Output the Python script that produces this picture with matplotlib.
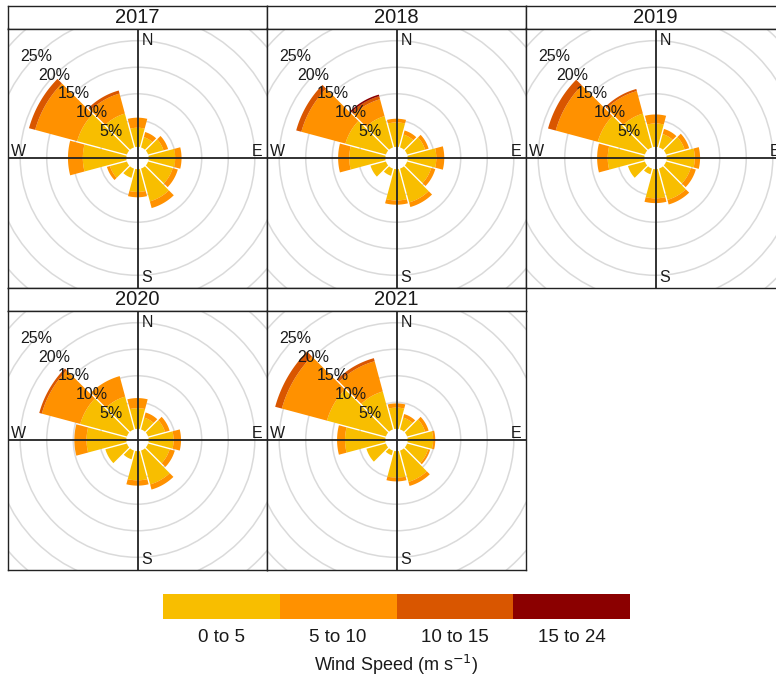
import matplotlib
matplotlib.use("Agg")
import matplotlib.pyplot as plt
from matplotlib.patches import Circle, Polygon
import numpy as np

plt.rcParams['font.family'] = ['Liberation Sans', 'DejaVu Sans']

# ── Data ──────────────────────────────────────────────────────────────────────
YEARS = ["2017", "2018", "2019", "2020", "2021"]
DIRECTIONS = [0, 30, 60, 90, 120, 150, 180, 210, 240, 270, 300, 330]
SPEED_BINS = ["0 to 5", "5 to 10", "10 to 15", "15 to 24"]
RING_PCTS = [5, 10, 15, 20, 25]

# frequency (%) per direction, one row per speed band
freq_2017 = [
    [3.6, 2.0, 3.0, 5.0, 4.8, 6.4, 4.3, 1.8, 3.3, 8.2, 9.7, 6.6],
    [1.9, 1.0, 0.9, 1.2, 1.0, 1.3, 1.0, 0.0, 0.6, 2.8, 8.2, 3.9],
    [0.0, 0.0, 0.0, 0.0, 0.0, 0.0, 0.0, 0.0, 0.0, 0.0, 1.2, 0.6],
    [0.0, 0.0, 0.0, 0.0, 0.0, 0.0, 0.0, 0.0, 0.0, 0.0, 0.0, 0.0],
]
freq_2018 = [
    [4.6, 2.5, 3.5, 5.4, 4.7, 6.6, 5.9, 1.4, 3.0, 6.8, 7.9, 6.1],
    [0.7, 0.8, 0.7, 1.5, 0.8, 0.9, 0.8, 0.0, 0.0, 2.1, 8.6, 3.3],
    [0.0, 0.0, 0.0, 0.0, 0.0, 0.0, 0.0, 0.0, 0.0, 0.0, 1.0, 0.6],
    [0.0, 0.0, 0.0, 0.0, 0.0, 0.0, 0.0, 0.0, 0.0, 0.0, 0.0, 0.3],
]
freq_2019 = [
    [4.4, 2.6, 3.6, 5.3, 4.8, 6.1, 5.5, 1.1, 3.3, 6.9, 9.2, 6.6],
    [1.7, 1.0, 0.9, 1.0, 1.0, 0.9, 0.9, 0.0, 0.0, 2.0, 8.2, 4.4],
    [0.0, 0.0, 0.0, 0.0, 0.0, 0.0, 0.0, 0.0, 0.0, 0.0, 1.5, 0.4],
    [0.0, 0.0, 0.0, 0.0, 0.0, 0.0, 0.0, 0.0, 0.0, 0.0, 0.0, 0.0],
]
freq_2020 = [
    [3.9, 2.3, 3.3, 4.7, 4.2, 6.6, 5.5, 1.7, 4.2, 7.5, 9.1, 6.4],
    [1.9, 1.0, 0.9, 1.4, 1.0, 1.0, 1.0, 0.0, 0.0, 2.3, 7.5, 4.0],
    [0.0, 0.0, 0.0, 0.0, 0.0, 0.0, 0.0, 0.0, 0.0, 0.0, 0.5, 0.0],
    [0.0, 0.0, 0.0, 0.0, 0.0, 0.0, 0.0, 0.0, 0.0, 0.0, 0.0, 0.0],
]
freq_2021 = [
    [4.0, 2.3, 3.5, 4.8, 4.1, 6.1, 5.0, 0.9, 3.8, 7.6, 11.5, 7.4],
    [0.8, 0.7, 0.7, 0.4, 0.4, 0.8, 0.7, 0.0, 0.0, 1.5, 8.8, 5.9],
    [0.0, 0.0, 0.0, 0.0, 0.0, 0.0, 0.0, 0.0, 0.0, 0.0, 1.3, 0.6],
    [0.0, 0.0, 0.0, 0.0, 0.0, 0.0, 0.0, 0.0, 0.0, 0.0, 0.0, 0.0],
]
ALL_FREQ = [freq_2017, freq_2018, freq_2019, freq_2020, freq_2021]

# ── Style ─────────────────────────────────────────────────────────────────────
COLOURS = ["#F8BE00", "#FF9100", "#D95600", "#8B0000"]
C_GRID = "#dadada"
C_TEXT = "#1a1a1a"
FIG_W, FIG_H = 776, 682
DPI = 100
HOLE = 2.1          # centre hole, in % units
LIM = 24.4          # half width of each panel, in % units
SECTOR = 30         # degrees per direction bin
GAP = 0.13          # half of the white gap between petals, in % units
PANEL = 259
STRIP = 23
PANEL_POS = [(8, 28.5), (267, 28.5), (526, 28.5), (8, 310.5), (267, 310.5)]


def fig_box(x, y_top, w, h):
    return [x / FIG_W, 1 - (y_top + h) / FIG_H, w / FIG_W, h / FIG_H]


def petal(d, r_in, r_out):
    """Sector between two radii, with straight parallel gaps at its sides."""
    pts = []
    for r, rev in ((r_out, False), (r_in, True)):
        da = np.degrees(np.arcsin(min(GAP / r, 1.0)))
        ang = np.linspace(d - SECTOR / 2 + da, d + SECTOR / 2 - da, 40)
        if rev:
            ang = ang[::-1]
        th = np.radians(ang)
        pts += list(zip(r * np.sin(th), r * np.cos(th)))
    return np.array(pts)


def draw_rose(ax, freq):
    ax.set_xlim(-LIM, LIM)
    ax.set_ylim(-LIM, LIM)
    for spine in ax.spines.values():
        spine.set_linewidth(1.0)
        spine.set_color("#222222")
    ax.set_xticks([])
    ax.set_yticks([])

    for pct in range(5, 45, 5):
        ax.add_patch(Circle((0, 0), HOLE + pct, fill=False, edgecolor=C_GRID,
                            lw=1.1, zorder=1))

    cum = np.zeros(len(DIRECTIONS))
    for band, colour in zip(freq, COLOURS):
        band = np.asarray(band)
        for d, inner, val in zip(DIRECTIONS, cum, band):
            if val <= 0:
                continue
            poly = petal(d, HOLE + inner, HOLE + inner + val)
            ax.add_patch(Polygon(poly, closed=True, facecolor=colour,
                                 edgecolor="none", zorder=2))
        cum = cum + band

    ax.axhline(0, color="#222222", lw=1.3, zorder=3)
    ax.axvline(0, color="#222222", lw=1.3, zorder=3)

    kw = dict(fontsize=11.5, color=C_TEXT, zorder=4)
    ax.text(0.8, 22.2, "N", ha="left", va="center", **kw)
    ax.text(0.8, -22.5, "S", ha="left", va="center", **kw)
    ax.text(-22.5, 1.2, "W", ha="center", va="center", **kw)
    ax.text(22.5, 1.2, "E", ha="center", va="center", **kw)

    for pct in RING_PCTS:
        r = (HOLE + pct) / np.sqrt(2)
        ax.text(-r, r, f"{pct}%", ha="center", va="center", **kw)


fig = plt.figure(figsize=(FIG_W / DPI, FIG_H / DPI), dpi=DPI)

for year, freq, (px, py) in zip(YEARS, ALL_FREQ, PANEL_POS):
    strip = fig.add_axes(fig_box(px, py - STRIP, PANEL, STRIP))
    strip.set_xticks([])
    strip.set_yticks([])
    for spine in strip.spines.values():
        spine.set_linewidth(1.0)
        spine.set_color("#222222")
    strip.text(0.5, 0.47, year, ha="center", va="center", fontsize=14.5,
               color=C_TEXT, transform=strip.transAxes)

    ax = fig.add_axes(fig_box(px, py, PANEL, PANEL))
    draw_rose(ax, freq)

# ── Legend bar ────────────────────────────────────────────────────────────────
lax = fig.add_axes(fig_box(163, 594, 467, 24.5))
lax.bar(range(len(SPEED_BINS)), [1] * len(SPEED_BINS), width=1.0,
        color=COLOURS, align="edge")
lax.set_xlim(0, len(SPEED_BINS))
lax.set_ylim(0, 1)
lax.axis("off")
for i, lab in enumerate(SPEED_BINS):
    fig.text((163 + (i + 0.5) * 467 / 4) / FIG_W, 1 - 637 / FIG_H, lab,
             ha="center", va="center", fontsize=13.5, color=C_TEXT)
fig.text(396.5 / FIG_W, 1 - 665 / FIG_H, r"Wind Speed (m s$^{-1}$)",
         ha="center", va="center", fontsize=13, color=C_TEXT)

fig.savefig("out.png", dpi=DPI, facecolor="white")
